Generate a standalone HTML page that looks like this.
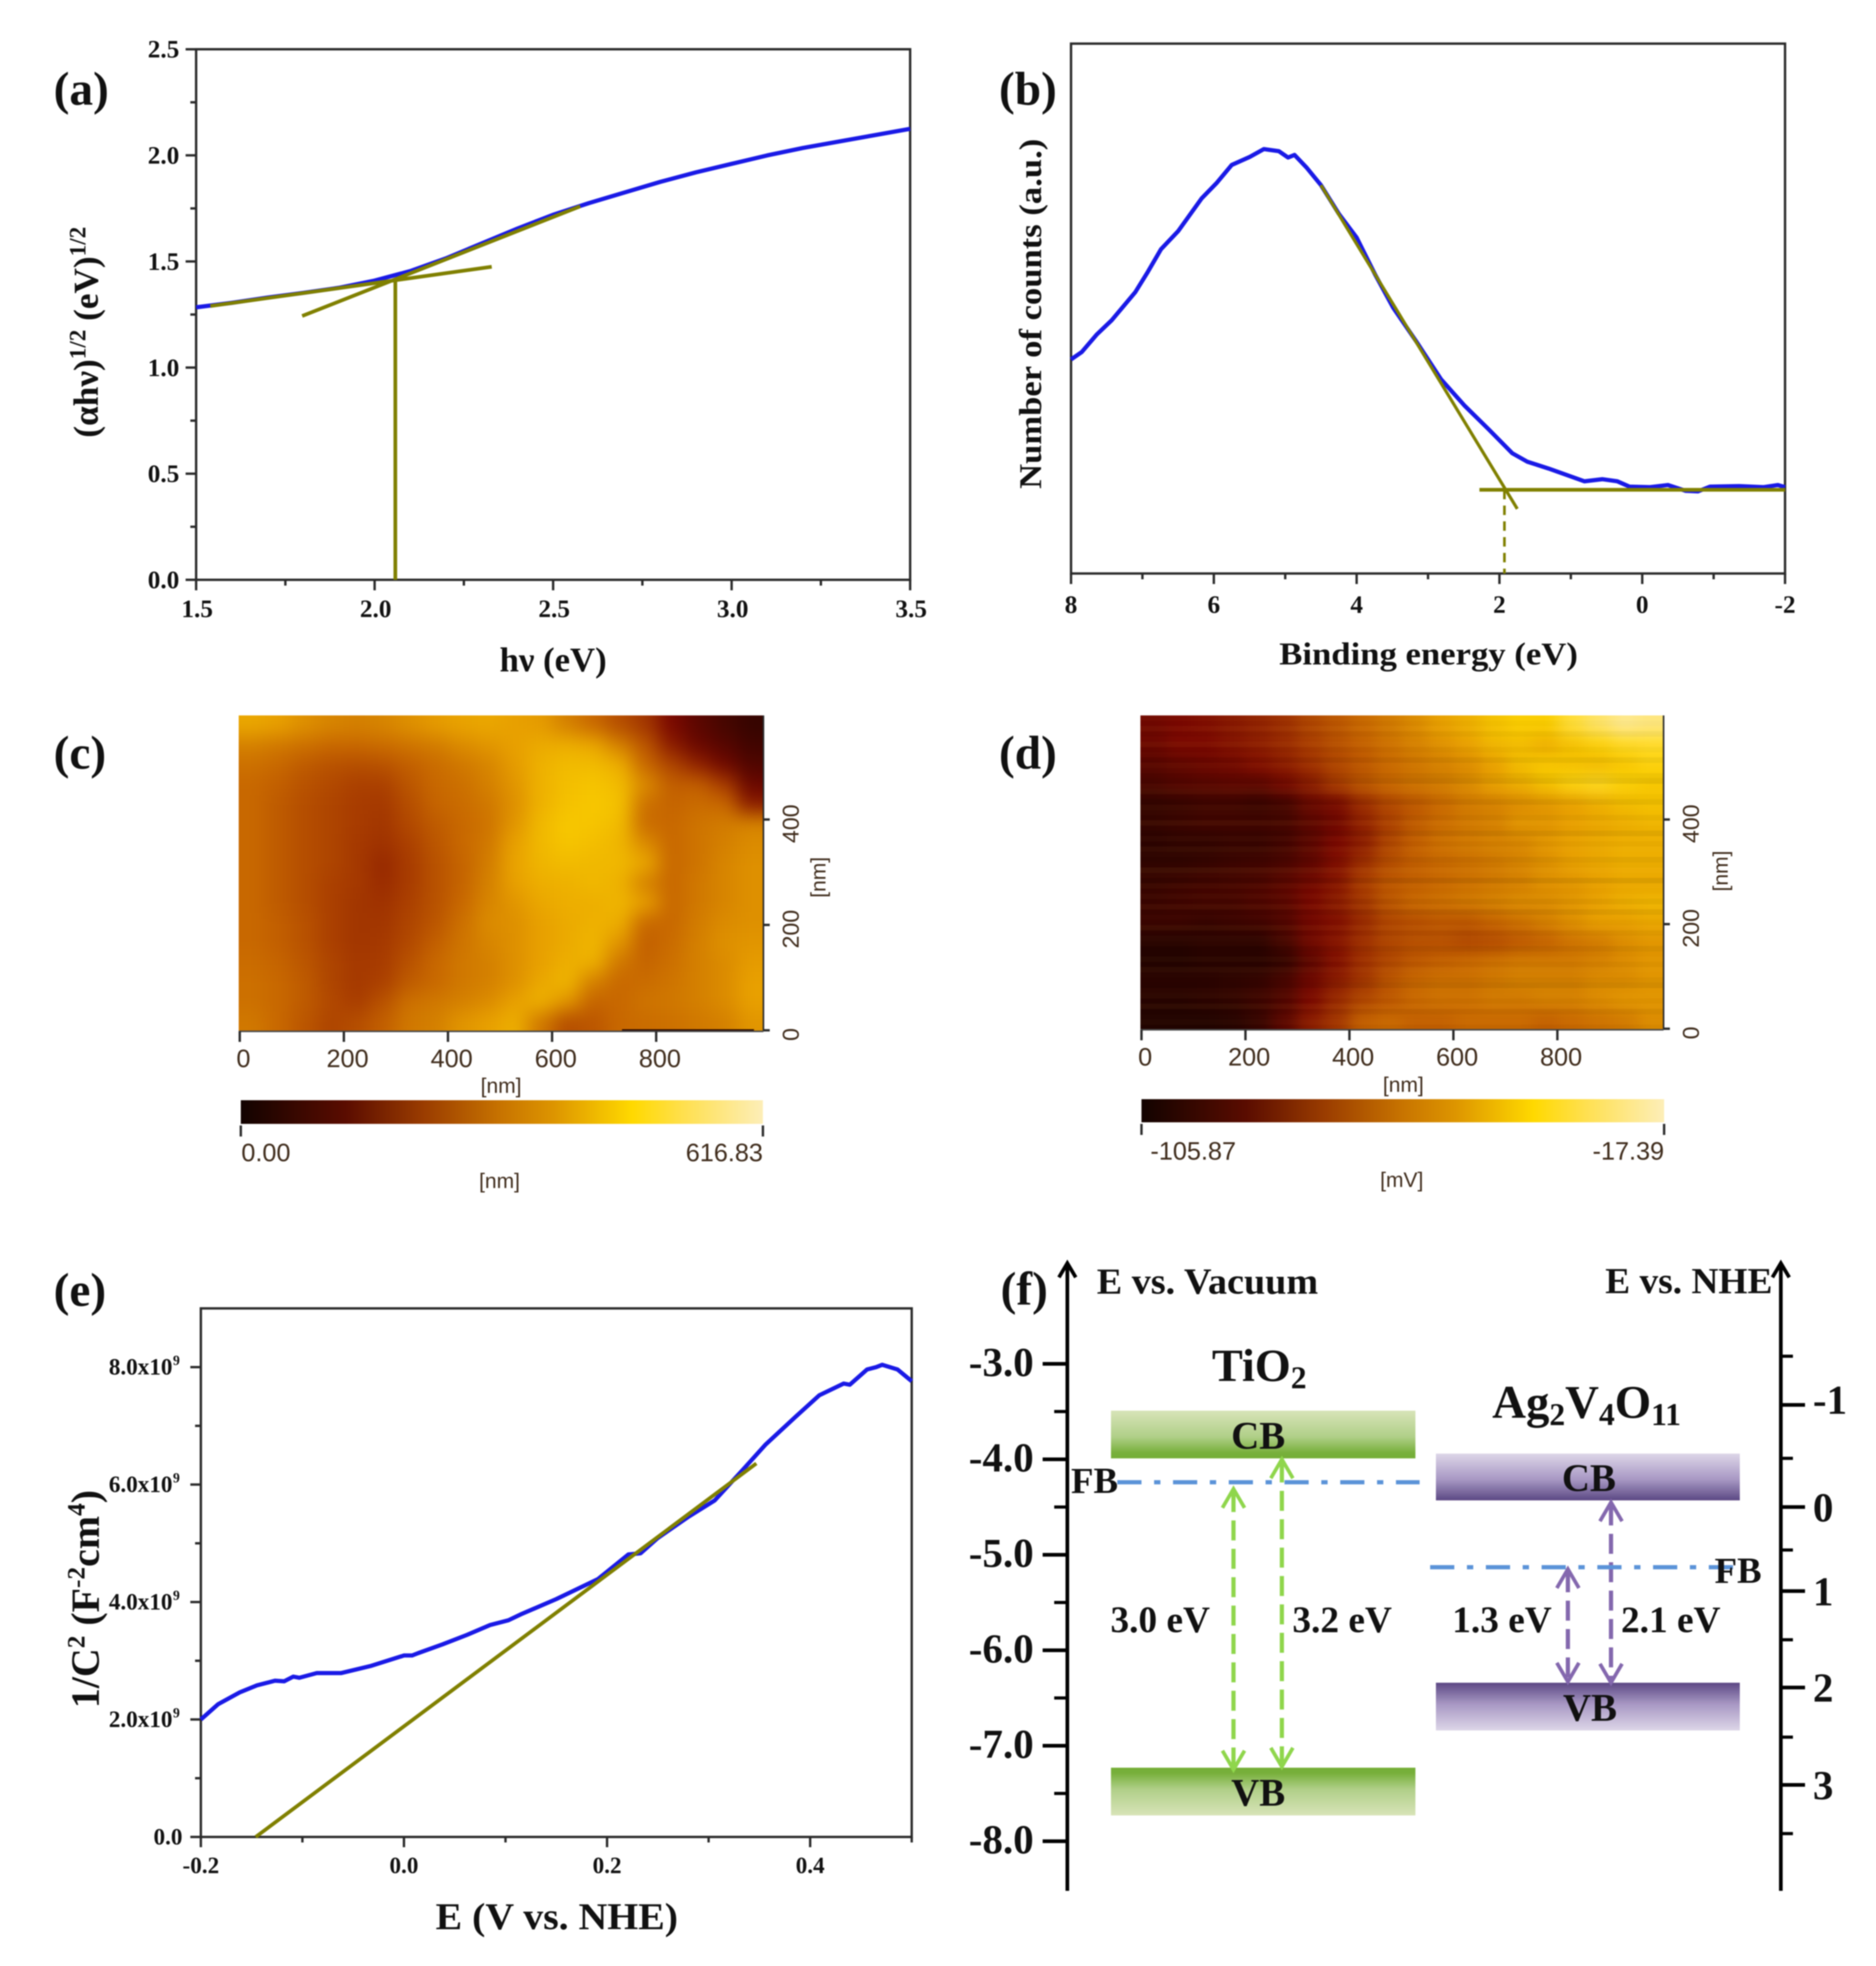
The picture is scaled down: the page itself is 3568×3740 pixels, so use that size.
<!DOCTYPE html>
<html><head><meta charset="utf-8"><title>Ag2V4O11 characterisation panels</title>
<style>
html,body{margin:0;padding:0;background:#fff}
svg#fig{display:block;filter:blur(1.1px)}
text{font-family:"Liberation Serif",serif;font-weight:bold;fill:#111}
.afm{font-family:"Liberation Sans",sans-serif;font-weight:normal;fill:#3f2c1c}
</style></head><body>
<svg id="fig" xmlns="http://www.w3.org/2000/svg" width="3568" height="3740" viewBox="0 0 3568 3740">
<defs>
<filter id="soft-c" filterUnits="userSpaceOnUse" x="-300" y="-300" width="1700" height="1300" color-interpolation-filters="sRGB"><feGaussianBlur stdDeviation="18"/></filter>
<filter id="soft-d" filterUnits="userSpaceOnUse" x="-300" y="-300" width="1700" height="1300" color-interpolation-filters="sRGB"><feGaussianBlur stdDeviation="15"/></filter>
<linearGradient id="tio2-cb" x1="0" y1="0" x2="0" y2="1"><stop offset="0" stop-color="#d8e4b8"/><stop offset=".55" stop-color="#b0cf88"/><stop offset=".88" stop-color="#78b03c"/><stop offset="1" stop-color="#74ae36"/></linearGradient>
<linearGradient id="tio2-vb" x1="0" y1="1" x2="0" y2="0"><stop offset="0" stop-color="#d8e4b8"/><stop offset=".55" stop-color="#b0cf88"/><stop offset=".88" stop-color="#78b03c"/><stop offset="1" stop-color="#74ae36"/></linearGradient>
<linearGradient id="ag-cb" x1="0" y1="0" x2="0" y2="1"><stop offset="0" stop-color="#ddd6e8"/><stop offset=".55" stop-color="#a898c4"/><stop offset="1" stop-color="#5c4884"/></linearGradient>
<linearGradient id="ag-vb" x1="0" y1="1" x2="0" y2="0"><stop offset="0" stop-color="#ddd6e8"/><stop offset=".55" stop-color="#a898c4"/><stop offset="1" stop-color="#5c4884"/></linearGradient>
<linearGradient id="afm-colorbar" x1="0" y1="0" x2="1" y2="0"><stop offset="0" stop-color="#120300"/><stop offset=".2" stop-color="#5a0c00"/><stop offset=".35" stop-color="#9a3c00"/><stop offset=".5" stop-color="#c87400"/><stop offset=".6" stop-color="#dd9500"/><stop offset=".75" stop-color="#ffd900"/><stop offset=".85" stop-color="#ffe050"/><stop offset="1" stop-color="#fdeeb8"/></linearGradient>
</defs>
<rect width="3568" height="3740" fill="#fff"/>

<g id="panel-a">
<text x="102" y="199" font-size="90">(a)</text>
<text transform="translate(186,632) rotate(-90)" text-anchor="middle" font-size="67">(αhν)<tspan dy="-24" font-size="44">1/2</tspan><tspan dy="24"> (eV)</tspan><tspan dy="-24" font-size="44">1/2</tspan></text>
<text x="1052" y="1277" text-anchor="middle" font-size="66">hν (eV)</text>
</g>
<g id="panel-b">
<text x="1900" y="199" font-size="90">(b)</text>
<text transform="translate(1980,597) rotate(-90)" text-anchor="middle" font-size="60" textLength="666" lengthAdjust="spacingAndGlyphs">Number of counts (a.u.)</text>
<text x="2717" y="1264" text-anchor="middle" font-size="60" textLength="568" lengthAdjust="spacingAndGlyphs">Binding energy (eV)</text>
</g>
<g id="panel-c">
<text x="102" y="1462" font-size="90">(c)</text>
</g>
<g id="panel-d">
<text x="1900" y="1462" font-size="90">(d)</text>
</g>
<g id="panel-e">
<text x="102" y="2484" font-size="90">(e)</text>
<text transform="translate(188,3042) rotate(-90)" text-anchor="middle" font-size="76">1/C<tspan dy="-27" font-size="48">2</tspan><tspan dy="27"> (F</tspan><tspan dy="-27" font-size="48">-2</tspan><tspan dy="27">cm</tspan><tspan dy="-27" font-size="48">4</tspan><tspan dy="27">)</tspan></text>
<text x="1059" y="3670" text-anchor="middle" font-size="72" textLength="461" lengthAdjust="spacingAndGlyphs">E (V vs. NHE)</text>
</g>
<g id="panel-f">
<text x="1903" y="2482" font-size="90">(f)</text>
<text x="2086" y="2461" font-size="70" textLength="421" lengthAdjust="spacingAndGlyphs">E vs. Vacuum</text>
<text x="3053" y="2460" font-size="70" textLength="318" lengthAdjust="spacingAndGlyphs">E vs. NHE</text>
<text x="2305" y="2627" font-size="88">TiO<tspan dy="14" font-size="60">2</tspan></text>
<text x="2838" y="2697" font-size="89">Ag<tspan dy="14" font-size="60">2</tspan><tspan dy="-14">V</tspan><tspan dy="14" font-size="60">4</tspan><tspan dy="-14">O</tspan><tspan dy="14" font-size="60">11</tspan></text>
</g>
<g id="plots"></g>
</svg>
<script>
// ---------- panel (a) data ----------
const aEnergy = [1.5,1.6,1.7,1.8,1.9,2.0,2.1,2.2,2.3,2.4,2.5,2.6,2.7,2.8,2.9,3.0,3.1,3.2,3.3,3.4,3.5];
const aSignal = [1.284,1.305,1.33,1.352,1.376,1.41,1.455,1.515,1.585,1.655,1.72,1.775,1.825,1.875,1.92,1.96,2.0,2.035,2.065,2.095,2.125];
const aXTicks = ['1.5','2.0','2.5','3.0','3.5'];
const aYTicks = ['0.0','0.5','1.0','1.5','2.0','2.5'];
const aFitLow = [[1.54,1.29],[2.328,1.475]];
const aFitHigh = [[1.797,1.243],[2.576,1.76]];
const aBandGap = [[2.058,1.41],[2.058,0]];
// ---------- panel (b) data ----------
const bEnergy = [8,7.85,7.64,7.43,7.1,6.93,6.74,6.5,6.17,5.96,5.75,5.5,5.3,5.09,4.96,4.87,4.7,4.5,4.25,4.0,3.74,3.49,3.16,2.82,2.49,2.15,1.82,1.61,1.31,1.06,0.81,0.56,0.35,0.18,-0.11,-0.36,-0.61,-0.78,-0.95,-1.36,-1.7,-1.9,-2];
const bCounts = [404,418,451,478,531,568,612,646,708,737,771,786,801,797,785,790,766,733,679,634,564,502,437,367,317,272,227,211,198,186,174,178,174,164,163,167,156,155,164,165,163,167,163];
const bXTicks = ['8','6','4','2','0','-2'];
const bFit = [[4.5,733],[1.75,122]];
const bBaseline = [[2.28,158],[-2,158]];
const bOnset = [[1.93,158],[1.93,0]];
// ---------- panel (c) heatmap ----------
const cHeight = [
[.60,.58,.55,.53,.52,.53,.55,.57,.59,.60,.58,.57,.52,.46,.40,.34,.20,.14,.10,.07],
[.52,.50,.48,.46,.46,.47,.49,.51,.54,.56,.58,.61,.62,.60,.52,.42,.26,.17,.13,.09],
[.48,.46,.43,.41,.40,.41,.44,.47,.50,.53,.57,.63,.66,.66,.62,.46,.38,.28,.18,.12],
[.46,.44,.41,.39,.37,.37,.42,.46,.48,.52,.56,.63,.67,.69,.66,.54,.44,.44,.36,.17],
[.46,.43,.40,.38,.36,.35,.40,.45,.47,.50,.55,.63,.68,.70,.68,.48,.45,.47,.46,.26],
[.46,.43,.40,.38,.36,.34,.39,.43,.46,.49,.56,.65,.70,.69,.66,.47,.46,.49,.51,.53],
[.46,.43,.40,.38,.35,.33,.37,.42,.46,.50,.58,.65,.69,.67,.64,.54,.46,.49,.52,.54],
[.46,.43,.40,.38,.35,.30,.36,.41,.45,.51,.59,.64,.66,.65,.65,.60,.46,.49,.53,.55],
[.46,.43,.40,.37,.35,.31,.36,.41,.45,.52,.58,.62,.63,.65,.63,.52,.46,.50,.53,.55],
[.46,.43,.40,.37,.34,.33,.37,.41,.46,.53,.56,.60,.62,.62,.64,.58,.46,.50,.53,.55],
[.46,.44,.41,.37,.34,.34,.38,.42,.48,.54,.55,.58,.61,.63,.62,.46,.46,.51,.54,.55],
[.46,.44,.41,.37,.34,.35,.39,.44,.49,.53,.55,.58,.61,.64,.56,.44,.47,.52,.55,.56],
[.47,.45,.42,.38,.35,.36,.41,.46,.50,.52,.55,.58,.62,.63,.50,.45,.48,.52,.54,.57],
[.48,.46,.43,.38,.35,.37,.43,.46,.50,.52,.55,.60,.64,.52,.46,.47,.49,.52,.54,.58],
[.48,.46,.43,.39,.36,.41,.48,.50,.52,.54,.58,.63,.56,.45,.46,.49,.50,.52,.54,.58],
[.50,.46,.42,.38,.40,.44,.50,.52,.56,.58,.62,.50,.40,.42,.46,.47,.48,.50,.52,.56]];
// ---------- panel (d) heatmap ----------
const dPotential = [
[.18,.20,.22,.25,.28,.32,.38,.42,.46,.50,.54,.58,.62,.68,.72,.72,.84,.90,.95,.93],
[.17,.20,.20,.23,.26,.30,.36,.40,.44,.48,.52,.55,.58,.64,.66,.62,.68,.74,.80,.82],
[.13,.15,.17,.18,.22,.26,.32,.38,.42,.46,.49,.52,.54,.58,.66,.70,.68,.66,.70,.75],
[.11,.13,.14,.15,.15,.19,.26,.36,.42,.46,.49,.51,.54,.58,.62,.68,.76,.80,.74,.70],
[.06,.07,.08,.08,.07,.09,.16,.19,.30,.38,.42,.46,.50,.52,.54,.56,.58,.62,.66,.68],
[.07,.08,.09,.09,.09,.10,.14,.18,.28,.37,.43,.47,.50,.52,.56,.56,.58,.60,.62,.64],
[.05,.06,.06,.07,.07,.09,.14,.20,.26,.38,.44,.48,.50,.52,.53,.56,.58,.60,.62,.62],
[.06,.06,.07,.08,.09,.11,.15,.22,.32,.40,.44,.46,.48,.50,.53,.55,.58,.60,.62,.62],
[.07,.08,.09,.10,.11,.14,.18,.24,.36,.42,.44,.46,.48,.50,.52,.55,.56,.58,.60,.60],
[.08,.09,.10,.10,.12,.14,.20,.26,.34,.42,.46,.48,.50,.52,.54,.54,.56,.58,.62,.64],
[.08,.08,.07,.08,.09,.12,.18,.22,.30,.38,.40,.42,.42,.45,.48,.52,.55,.58,.58,.60],
[.04,.04,.05,.05,.05,.10,.18,.24,.32,.38,.40,.40,.38,.39,.42,.44,.48,.50,.54,.56],
[.03,.03,.04,.04,.04,.06,.14,.22,.32,.38,.42,.44,.46,.48,.50,.50,.50,.52,.54,.56],
[.05,.05,.05,.06,.07,.11,.18,.26,.34,.42,.46,.48,.48,.50,.52,.52,.52,.54,.54,.56],
[.04,.04,.05,.06,.08,.12,.20,.30,.38,.42,.46,.48,.48,.50,.50,.52,.52,.54,.56,.56],
[.03,.03,.03,.04,.07,.14,.26,.34,.44,.46,.44,.44,.46,.46,.46,.44,.46,.48,.50,.54]];
const dScanLines = [.3,-.2,.5,-.4,.1,.6,-.3,.2,-.6,.4,.1,-.5,-.9,.3,.5,-.2,-.7,.4,.2,-.4,.6,-.1,-.8,.3,-.3,.5,.1,-.6,-.2,.7,.2,-.9,.4,-.1,.3,-.5,.5,-.7,.1,-.2,.6,-.4,.3,.2,-.6,-.1,.4,-.3,.5,.1,-.4,-.8,.2,.4,-.2,.6,-.5,.1,.3,-.3];
const afmXTicks = ['0','200','400','600','800'];
const afmYTicks = ['0','200','400'];
// ---------- panel (e) data ----------
const ePotential = [-.2,-.183,-.162,-.145,-.127,-.118,-.109,-.103,-.086,-.062,-.033,0,.008,.014,.038,.062,.085,.103,.115,.15,.191,.221,.233,.25,.28,.306,.333,.356,.386,.409,.433,.439,.456,.465,.471,.486,.5];
const eInverseC2 = [2.0,2.26,2.46,2.58,2.66,2.65,2.73,2.71,2.79,2.79,2.91,3.09,3.09,3.13,3.28,3.44,3.61,3.69,3.79,4.05,4.39,4.81,4.83,5.09,5.45,5.73,6.24,6.68,7.16,7.52,7.72,7.70,7.96,8.0,8.04,7.96,7.76];
const eFit = [[-.146,0],[.347,6.36]];
const eXTicks = ['-0.2','0.0','0.2','0.4'];
const eYTicks = ['0.0','2.0','4.0','6.0','8.0'];
// ---------- panel (f) data ----------
const vacuumTicks = ['-3.0','-4.0','-5.0','-6.0','-7.0','-8.0'];
const nheMajorPos = [-3.43,-4.50,-5.38,-6.39,-7.41];
const nheMajorLabels = ['-1','0','1','2','3'];
const nheMinorPos = [-2.92,-3.99,-4.95,-5.89,-6.91,-7.92];
const tio2Bands = [['CB',-3.49,-3.99],['VB',-7.23,-7.73]];
const agBands = [['CB',-3.94,-4.43],['VB',-6.34,-6.84]];
const tio2Fb = -4.24;
const agFb = -5.13;
const tio2Gaps = [['3.0 eV',-4.31,-7.25],['3.2 eV',-4.0,-7.22]];
const agGaps = [['1.3 eV',-5.15,-6.33],['2.1 eV',-4.45,-6.34]];

const NS='http://www.w3.org/2000/svg';
const plots=document.getElementById('plots');
function mk(tag,attrs,parent){const e=document.createElementNS(NS,tag);for(const k in attrs)e.setAttribute(k,attrs[k]);(parent||plots).appendChild(e);return e;}
function txt(str,attrs,parent){const e=mk('text',attrs,parent);e.textContent=str;return e;}
function lin(d0,d1,r0,r1){return v=>r0+(v-d0)*(r1-r0)/(d1-d0);}
function pathOf(xs,ys,X,Y){return xs.map((v,i)=>(i?'L':'M')+X(v).toFixed(1)+' '+Y(ys[i]).toFixed(1)).join(' ');}
function segOf(seg,X,Y){return 'M'+X(seg[0][0])+' '+Y(seg[0][1])+' L'+X(seg[1][0])+' '+Y(seg[1][1]);}
const INK='#2a2a2a',BLUE='#1a1ae6',OLIVE='#808000';

function frame(id,x0,y0,x1,y1){
  const r=mk('rect',{x:x0,y:y0,width:x1-x0,height:y1-y0,fill:'none',stroke:INK,'stroke-width':4.5},document.getElementById(id));
  
  
}
function tick(p,x1,y1,x2,y2){
  const l=mk('line',{x1,y1,x2,y2,stroke:INK,'stroke-width':4.5},p);
  
  
}
function curve(p,d,name,color,w,dash){
  const c=mk('path',{d,fill:'none',stroke:color,'stroke-width':w,'stroke-linejoin':'round'},p);
  if(dash)c.setAttribute('stroke-dasharray',dash);
  
  
}

// ---------- (a) ----------
(function(){
  const p=document.getElementById('panel-a');
  const X=lin(1.5,3.5,373,1731),Y=lin(0,2.5,1103,93.7);
  frame('panel-a',373,93.7,1731,1103);
  aXTicks.forEach(t=>{const v=+t;tick(p,X(v),1103,X(v),1123);
    const e=txt(t,{x:X(v)+2,y:1174,'text-anchor':'middle','font-size':48},p);
    
    
    if(v<3.5)tick(p,X(v+.25),1103,X(v+.25),1114);});
  aYTicks.forEach(t=>{const v=+t;tick(p,373,Y(v),353,Y(v));
    const e=txt(t,{x:341,y:Y(v)+16,'text-anchor':'end','font-size':48},p);
    
    
    if(v<2.5)tick(p,373,Y(v+.25),362,Y(v+.25));});
  curve(p,pathOf(aEnergy,aSignal,X,Y),'absorption-curve',BLUE,8);
  curve(p,segOf(aFitLow,X,Y),'tangent-low',OLIVE,7);
  curve(p,segOf(aFitHigh,X,Y),'tangent-high',OLIVE,7);
  curve(p,segOf(aBandGap,X,Y),'band-gap-marker',OLIVE,7);
})();

// ---------- (b) ----------
(function(){
  const p=document.getElementById('panel-b');
  const X=lin(8,-2,2037,3395),Y=lin(0,1000,1091,83);
  frame('panel-b',2037,83,3395,1091);
  bXTicks.forEach(t=>{const v=+t;tick(p,X(v),1091,X(v),1111);
    const e=txt(t,{x:X(v),y:1166,'text-anchor':'middle','font-size':48},p);
    
    
    if(v>-2)tick(p,X(v-1),1091,X(v-1),1102);});
  curve(p,pathOf(bEnergy,bCounts,X,Y),'valence-band-curve',BLUE,8);
  curve(p,segOf(bFit,X,Y),'tangent-line',OLIVE,6);
  curve(p,segOf(bBaseline,X,Y),'baseline',OLIVE,7);
  curve(p,segOf(bOnset,X,Y),'onset-marker',OLIVE,5,'18 12');
})();

// ---------- AFM heatmaps ----------
const cmap=[[0,18,3,0],[.2,122,8,0],[.36,168,60,0],[.46,200,104,0],[.52,212,128,0],[.58,232,160,0],[.65,240,184,0],[.72,250,205,0],[.82,255,220,40],[1,253,238,184]];
function colorOf(t){for(let i=1;i<cmap.length;i++){if(t<=cmap[i][0]){const a=cmap[i-1],b=cmap[i],f=(t-a[0])/(b[0]-a[0]);return 'rgb('+[1,2,3].map(k=>Math.round(a[k]+(b[k]-a[k])*f)).join(',')+')';}}return 'rgb(253,238,184)';}
function heatmap(p,grid,x0,y0,w,h,name,filterId){
  const s=mk('svg',{x:x0,y:y0,width:w,height:h,viewBox:'0 0 '+w+' '+h},p);
  
  
  const g=mk('g',{filter:'url(#'+filterId+')'},s);
  const R=grid.length,C=grid[0].length,cw=w/C,ch=h/R,pad=120;
  grid.forEach((row,r)=>row.forEach((v,c)=>{
    let x=c*cw,y=r*ch,W=cw+1,H=ch+1;
    if(c===0){x-=pad;W+=pad;} if(c===C-1)W+=pad;
    if(r===0){y-=pad;H+=pad;} if(r===R-1)H+=pad;
    const q=mk('rect',{x:x,y:y,width:W,height:H,fill:colorOf(v)},g);
    
    
  }));
  return s;
}
function afmDecor(p,x0,x1,y0,y1,xTickPos,yTickPos,lab){
  const l=mk('line',{x1:x1,y1:y0,x2:x1,y2:y1,stroke:INK,'stroke-width':3},p);
  
  
  const b=mk('line',{x1:x0,y1:y1,x2:x1,y2:y1,stroke:'#4a4a4a','stroke-width':3},p);
  
  
  afmXTicks.forEach((t,i)=>{const x=xTickPos(+t);tick(p,x,y1,x,y1+20);
    const e=txt(t,{x:x+lab.dx,y:lab.xBase,'text-anchor':'middle','font-size':48,class:'afm'},p);
    
    });
  afmYTicks.forEach(t=>{const y=yTickPos(+t);tick(p,x1,y,x1+12,y);
    const e=txt(t,{transform:'translate('+(lab.yLab)+','+(y+8)+') rotate(-90)','text-anchor':'middle','font-size':44,class:'afm'},p);
    
    });
  const u1=txt('[nm]',{x:lab.nmX,y:lab.nmBase,'text-anchor':'middle','font-size':40,class:'afm'},p);
  
  
  const u2=txt('[nm]',{transform:'translate('+lab.nmYx+','+lab.nmYy+') rotate(-90)','text-anchor':'middle','font-size':40,class:'afm'},p);
  
  
}
function colorbar(p,x0,x1,y0,y1,lo,hi,unit,unitX,loX,base,unitBase){
  const r=mk('rect',{x:x0,y:y0,width:x1-x0,height:y1-y0,fill:'url(#afm-colorbar)'},p);
  
  
  tick(p,x0,y1+3,x0,y1+24);tick(p,x1,y1+3,x1,y1+24);
  const a=txt(lo,{x:loX,y:base,'font-size':48,class:'afm'},p);
  
  
  const b=txt(hi,{x:x1,y:base,'text-anchor':'end','font-size':48,class:'afm'},p);
  
  
  const c=txt(unit,{x:unitX,y:unitBase,'text-anchor':'middle','font-size':40,class:'afm'},p);
  
  
}
(function(){
  const p=document.getElementById('panel-c');
  heatmap(p,cHeight,454,1361,998,601,'topography-heatmap','soft-c');
  const dk=mk('line',{x1:1183,y1:1960,x2:1434,y2:1960,stroke:'#2a0800','stroke-width':4},p);
  
  
  afmDecor(p,454,1452,1361,1962,lin(0,800,456,1248),lin(0,400,1960,1559),{dx:7,xBase:2030,yLab:1519,nmX:953,nmBase:2079,nmYx:1570,nmYy:1669});
  colorbar(p,458,1451,2093,2138,'0.00','616.83','[nm]',950,459,2209,2260);
})();
(function(){
  const p=document.getElementById('panel-d');
  heatmap(p,dPotential,2169,1361,995,598,'potential-heatmap','soft-d');
  const H=598/dScanLines.length;
  dScanLines.forEach((v,i)=>{
    const s=mk('rect',{x:2169,y:1361+i*H,width:995,height:H+.5,fill:v<0?'#000':'#ffc040',opacity:Math.abs(v)*.08},p);
    
    
  });
  afmDecor(p,2169,3164,1361,1959,lin(0,800,2171,2962),lin(0,400,1957,1559),{dx:7,xBase:2027,yLab:3231,nmX:2669,nmBase:2077,nmYx:3286,nmYy:1657});
  colorbar(p,2171,3165,2091,2135,'-105.87','-17.39','[mV]',2666,2188,2206,2258);
})();

// ---------- (e) ----------
(function(){
  const p=document.getElementById('panel-e');
  const X=lin(-.2,.5,382,1734),Y=lin(0,9,3494.5,2489);
  frame('panel-e',382,2489,1734,3494.5);
  eXTicks.forEach(t=>{const v=+t;tick(p,X(v),3494.5,X(v),3514);
    const e=txt(t,{x:X(v),y:3563,'text-anchor':'middle','font-size':44},p);
    
    
    tick(p,X(v+.1),3494.5,X(v+.1),3505);});
  eYTicks.forEach(t=>{const v=+t;tick(p,382,Y(v),362,Y(v));
    if(v<8)tick(p,382,Y(v+1),371,Y(v+1));
    const e=txt(t==='0.0'?t:t+'x10',{x:t==='0.0'?347:328,y:Y(v)+14,'text-anchor':'end','font-size':44},p);
    
    
    if(t!=='0.0'){const s=txt('9',{x:329,y:Y(v)-4,'font-size':26},p);
      
      }});
  curve(p,pathOf(ePotential,eInverseC2,X,Y),'mott-schottky-curve',BLUE,8);
  curve(p,segOf(eFit,X,Y),'linear-fit',OLIVE,7);
})();

// ---------- (f) ----------
(function(){
  const p=document.getElementById('panel-f');
  const Y=lin(-3,-8,2594.5,3502.6);
  const K='#000',LX=2030,RX=3387;
  function line(x1,y1,x2,y2,c,w,name,dash){const l=mk('line',{x1,y1,x2,y2,stroke:c,'stroke-width':w},p);
    if(dash)l.setAttribute('stroke-dasharray',dash);
    
    }
  [LX,RX].forEach(x=>{line(x,3597,x,2403,K,7,'energy-axis');
    const h=mk('path',{d:'M'+(x-16)+' 2430 L'+x+' 2403 L'+(x+16)+' 2430',fill:'none',stroke:K,'stroke-width':7},p);
    
    });
  vacuumTicks.forEach(t=>{const v=+t,y=Y(v);line(LX-47,y,LX,y,K,7,'vacuum-major-tick');
    const e=txt(t,{x:1966,y:y+23,'text-anchor':'end','font-size':78},p);
    
    
    if(v>-8)line(LX-25,Y(v-.5),LX,Y(v-.5),K,6,'vacuum-minor-tick');});
  nheMajorPos.forEach((v,i)=>{const y=Y(v);line(RX,y,RX+46,y,K,7,'nhe-major-tick');
    const e=txt(nheMajorLabels[i],{x:3448,y:y+(i===0?17:27),'font-size':78},p);
    
    });
  nheMinorPos.forEach(v=>line(RX,Y(v),RX+23,Y(v),K,6,'nhe-minor-tick'));
  function band(x,w,b,grad,name,tx){const r=mk('rect',{x,y:Y(b[1]),width:w,height:Y(b[2])-Y(b[1]),fill:'url(#'+grad+')'},p);
    
    
    const e=txt(b[0],{x:tx,y:(Y(b[1])+Y(b[2]))/2+27,'text-anchor':'middle','font-size':74},p);
    
    }
  band(2113,579,tio2Bands[0],'tio2-cb','tio2-conduction-band',2393);
  band(2113,579,tio2Bands[1],'tio2-vb','tio2-valence-band',2393);
  band(2731,578,agBands[0],'ag-cb','ag-conduction-band',3022);
  band(2731,578,agBands[1],'ag-vb','ag-valence-band',3024);
  function gap(x,g,c,name,tx){const y0=Y(g[1]),y1=Y(g[2]);
    line(x,y0+6,x,y1-6,c,8,name,'38 16');
    [[y0,1],[y1,-1]].forEach(a=>{const h=mk('path',{d:'M'+(x-21)+' '+(a[0]+a[1]*36)+' L'+x+' '+a[0]+' L'+(x+21)+' '+(a[0]+a[1]*36),fill:'none',stroke:c,'stroke-width':7},p);
      
      });
    const e=txt(g[0],{x:tx,y:3105,'font-size':71},p);
    
    }
  gap(2346,tio2Gaps[0],'#8fd64c','tio2-gap-fb',2112);
  gap(2438,tio2Gaps[1],'#8fd64c','tio2-gap-cb',2458);
  gap(2982,agGaps[0],'#8468ae','ag-gap-fb',2762);
  gap(3064,agGaps[1],'#8468ae','ag-gap-cb',3083);
  line(2125,Y(tio2Fb),2700,Y(tio2Fb),'#5b93d8',8,'tio2-flat-band','46 24 12 24');
  line(2720,Y(agFb),3297,Y(agFb),'#5b93d8',8,'ag-flat-band','46 24 12 24');
  const f1=txt('FB',{x:2037,y:2840,'font-size':70},p);
  
  
  const f2=txt('FB',{x:3261,y:3011,'font-size':70},p);
  
  
})();
</script>
</body></html>
